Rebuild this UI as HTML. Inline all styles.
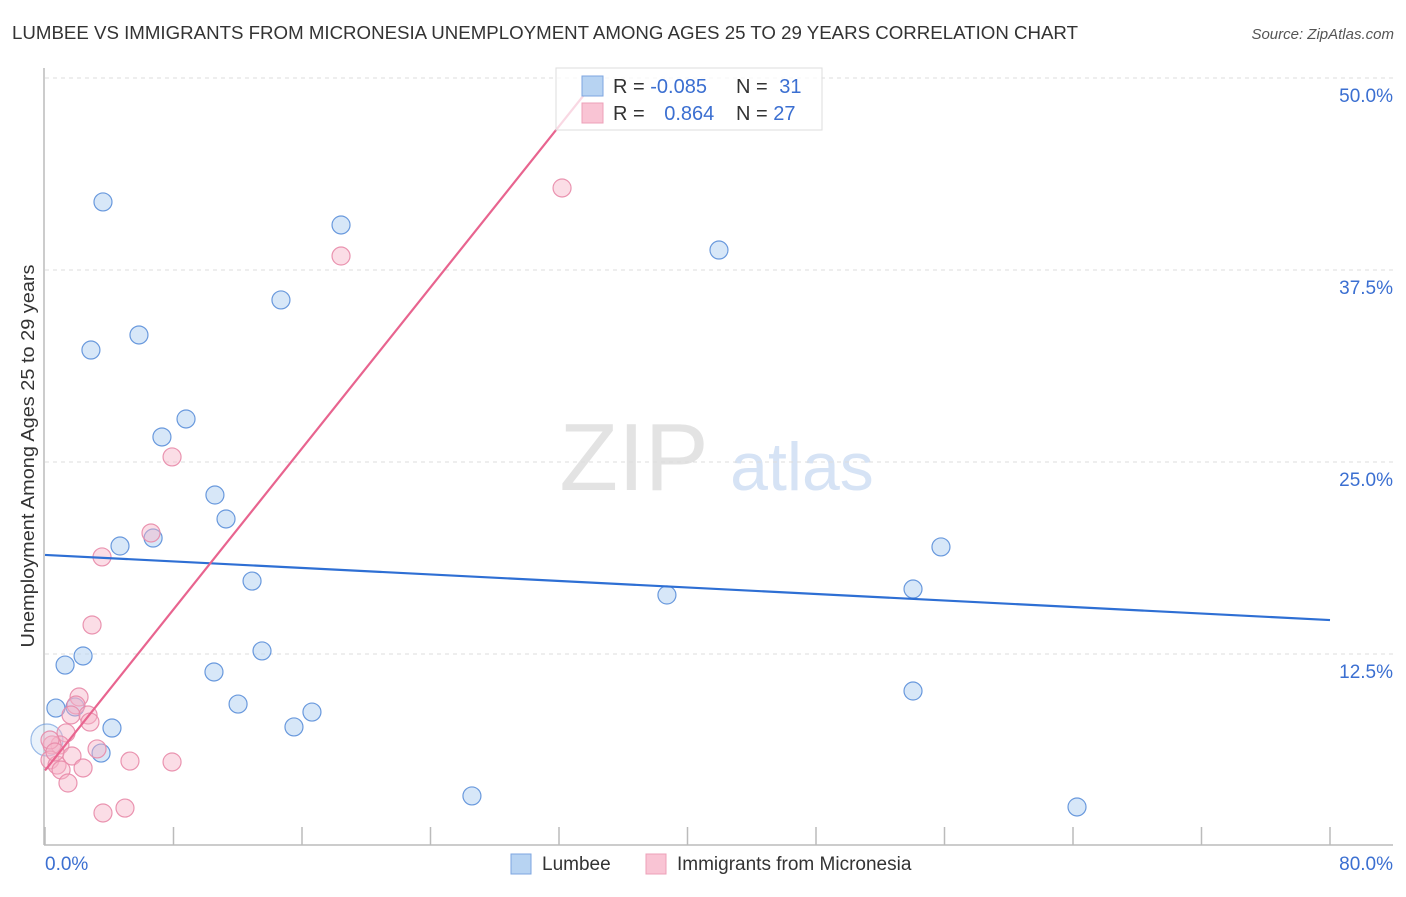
<!DOCTYPE html>
<html><head><meta charset="utf-8"><style>
body{margin:0;background:#fff;font-family:"Liberation Sans",sans-serif;}
svg text{font-family:"Liberation Sans",sans-serif;}
</style></head><body>
<svg id="chart" width="1406" height="892">
<text x="12" y="39" font-size="18.5" fill="#333" textLength="1066" lengthAdjust="spacingAndGlyphs">LUMBEE VS IMMIGRANTS FROM MICRONESIA UNEMPLOYMENT AMONG AGES 25 TO 29 YEARS CORRELATION CHART</text>
<text x="1394" y="39" font-size="15" fill="#555" font-style="italic" text-anchor="end">Source: ZipAtlas.com</text>
<g>
<text x="634" y="490" font-size="96" fill="#e3e3e3" font-family="Liberation Serif" text-anchor="middle">ZIP</text>
<text x="802" y="490" font-size="68" fill="#d6e3f5" text-anchor="middle">atlas</text>
</g>
<g id="grid"></g>
<g id="axes"></g>
<g id="marks"></g>
<text transform="translate(34,456) rotate(-90)" font-size="18" fill="#333" text-anchor="middle" textLength="383" lengthAdjust="spacingAndGlyphs">Unemployment Among Ages 25 to 29 years</text>
<g>
<rect x="556" y="68" width="266" height="62" fill="#fff" fill-opacity="0.75" stroke="#ddd"/>
<rect x="582" y="76" width="21" height="20" fill="#b7d3f2" stroke="#7da6e0"/>
<rect x="582" y="103" width="21" height="20" fill="#f9c4d4" stroke="#eda0b8"/>
<text x="613" y="93" font-size="20" fill="#333">R = <tspan fill="#3b6fd1">-0.085</tspan></text>
<text x="736" y="93" font-size="20" fill="#333">N = <tspan fill="#3b6fd1" dx="6">31</tspan></text>
<text x="613" y="120" font-size="20" fill="#333">R = <tspan fill="#3b6fd1" dx="14">0.864</tspan></text>
<text x="736" y="120" font-size="20" fill="#333">N = <tspan fill="#3b6fd1">27</tspan></text>
</g>
<g>
<rect x="511" y="854" width="20" height="20" fill="#b7d3f2" stroke="#7da6e0"/>
<text x="542" y="870" font-size="19" fill="#333">Lumbee</text>
<rect x="646" y="854" width="20" height="20" fill="#f9c4d4" stroke="#eda0b8"/>
<text x="677" y="870" font-size="19" fill="#333">Immigrants from Micronesia</text>
</g>
</svg>
<script>
const xTicks=[0,8,16,24,32,40,48,56,64,72,80];
const yTicks=[12.5,25,37.5,50];
const yTickLabels=["12.5%","25.0%","37.5%","50.0%"];
const xEndLabels=["0.0%","80.0%"];
const lumbeeX=[3.61,18.43,41.96,14.69,5.85,2.86,8.78,7.28,10.58,11.27,4.67,6.73,55.78,12.89,54.04,38.72,13.51,2.37,1.25,10.52,54.04,12.02,0.68,1.87,16.62,4.17,15.50,3.49,26.58,64.25,0.12];
const lumbeeY=[41.93,40.43,38.80,35.55,33.27,32.29,27.80,26.63,22.85,21.29,19.53,20.05,19.47,17.25,16.73,16.34,12.70,12.37,11.78,11.33,10.09,9.24,8.98,9.05,8.72,7.68,7.75,6.05,3.26,2.54,6.90];
const microX=[32.19,18.43,7.91,6.60,3.55,2.93,2.12,1.93,1.62,2.68,2.80,1.31,3.24,0.93,0.44,1.68,0.31,0.75,1.00,2.37,5.29,7.91,1.43,4.98,3.61,0.31,0.62];
const microY=[42.84,38.41,25.33,20.38,18.82,14.39,9.70,9.18,8.53,8.53,8.07,7.36,6.32,6.58,6.58,5.86,5.60,5.27,4.95,5.08,5.53,5.47,4.10,2.47,2.15,6.90,6.12];
const lumbeeTrend=[[0,18.95],[80,14.71]];
const microTrend=[[0,4.92],[34.3,49.87]];
const NS="http://www.w3.org/2000/svg";
const X0=45,X1=1330,Y0=846,Y50=78;
const sx=v=>X0+(X1-X0)*v/80;
const sy=v=>Y0-(Y0-Y50)*v/50;
function mk(tag,attrs,parent){const e=document.createElementNS(NS,tag);for(const k in attrs)e.setAttribute(k,attrs[k]);document.getElementById(parent).appendChild(e);return e;}
yTicks.forEach((t,i)=>{
 const l=mk('line',{x1:X0,x2:1393,y1:sy(t),y2:sy(t),stroke:'#ddd','stroke-dasharray':'4,4'},'grid');
 
 
 const tx=mk('text',{x:1393,y:sy(t)+24,'font-size':19,fill:'#3b6fd1','text-anchor':'end'},'axes');
 tx.textContent=yTickLabels[i];
 
 
});
const ax=mk('line',{x1:44,x2:44,y1:68,y2:845,stroke:'#bbb','stroke-width':1.5},'axes');


const bx=mk('line',{x1:44,x2:1393,y1:845,y2:845,stroke:'#bbb','stroke-width':1.5},'axes');


xTicks.forEach(t=>{
 const l=mk('line',{x1:sx(t),x2:sx(t),y1:827,y2:845,stroke:'#bbb','stroke-width':1.5},'axes');
 
 
});
const xl0=mk('text',{x:45,y:870,'font-size':19,fill:'#3b6fd1'},'axes');xl0.textContent=xEndLabels[0];


const xl1=mk('text',{x:1393,y:870,'font-size':19,fill:'#3b6fd1','text-anchor':'end'},'axes');xl1.textContent=xEndLabels[1];


function pts(xs,ys,fill,stroke,name,op){
 xs.forEach((v,i)=>{
  const big=(name==='lumbee-point'&&i===xs.length-1);
  const c=mk('circle',{cx:sx(v),cy:sy(ys[i]),r:big?16:9,fill:fill,'fill-opacity':big?0.3:op,stroke:stroke,'stroke-width':1.2,'stroke-opacity':big?0.6:0.9},'marks');
  
  
 });
}
pts(lumbeeX,lumbeeY,'#b7d3f2','#5b8fd9','lumbee-point',0.55);
pts(microX,microY,'#f7b3c8','#e88aa8','micronesia-point',0.45);
const t1=mk('line',{x1:sx(lumbeeTrend[0][0]),y1:sy(lumbeeTrend[0][1]),x2:sx(lumbeeTrend[1][0]),y2:sy(lumbeeTrend[1][1]),stroke:'#2e6fd4','stroke-width':2.2},'marks');


const t2=mk('line',{x1:sx(microTrend[0][0]),y1:sy(microTrend[0][1]),x2:sx(microTrend[1][0]),y2:sy(microTrend[1][1]),stroke:'#e8648f','stroke-width':2.2},'marks');


</script>
</body></html>
